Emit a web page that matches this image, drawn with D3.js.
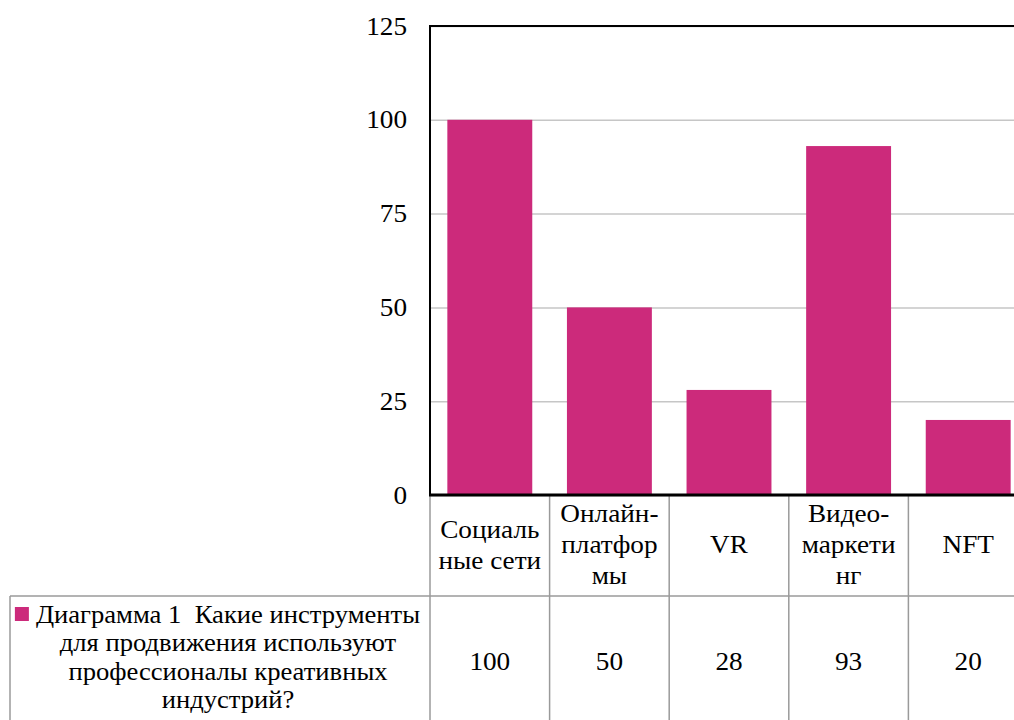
<!DOCTYPE html>
<html>
<head>
<meta charset="utf-8">
<script src="https://cdn.jsdelivr.net/npm/d3@7"></script>
<style>
  body { margin: 0; background: #fff; }
  svg { display: block; }
</style>
</head>
<body>
<svg id="chart" width="1014" height="720"></svg>
<script>
// Category names, as broken over lines inside the data-table header cells
const categories = ["Социальные сети", "Онлайн-платформы", "VR", "Видео-маркетинг", "NFT"];
const categoryLines = [["Социаль", "ные сети"], ["Онлайн-", "платфор", "мы"], ["VR"], ["Видео-", "маркети", "нг"], ["NFT"]];
// Single series and its legend text (wrapped inside the legend cell)
const seriesName = "Диаграмма 1  Какие инструменты для продвижения используют профессионалы креативных индустрий?";
const seriesLines = ["Диаграмма 1  Какие инструменты", "для продвижения используют", "профессионалы креативных", "индустрий?"];
const values = [100, 50, 28, 93, 20];
const yTicks = [0, 25, 50, 75, 100, 125];

const FONT = '"Liberation Serif", "Times New Roman", serif';
const FS = "25px";
const SX = 1.09;            // slightly widened glyphs
const SX_LEGEND = 1.065;
const barColor = "#cc2a7b";
const gridColor = "#c6c6c6";
const tableColor = "#9a9a9a";

const svg = d3.select("#chart");

const plotLeft = 430, plotTop = 26, plotBottom = 495;
const step = 119.6;
const plotRight = plotLeft + step * categories.length;
const headerBottom = 596, tableBottom = 760, legendLeft = 10;

const y = d3.scaleLinear().domain([0, 125]).range([plotBottom, plotTop]);

// Table cells share the category bands; bars sit centred inside them
const cellX = d3.scaleBand().domain(categories).range([plotLeft, plotRight]).padding(0);
const barX = d3.scaleBand().domain(categories).range([plotLeft, plotRight])
  .paddingInner(0.29).paddingOuter(0.145);
const cellMid = c => cellX(c) + cellX.bandwidth() / 2;

// Gridlines and value-axis labels
const yAxis = d3.axisLeft(y).tickValues(yTicks).tickSize(-(plotRight - plotLeft)).tickPadding(23);
const gAxis = svg.append("g").attr("transform", `translate(${plotLeft},0)`).call(yAxis);
gAxis.select(".domain").remove();
gAxis.selectAll(".tick line").attr("stroke", gridColor).attr("stroke-width", 1.5);
gAxis.selectAll(".tick text")
  .attr("x", -23 / SX).attr("transform", `scale(${SX},1)`)
  .style("font-family", FONT).style("font-size", FS).attr("fill", "#000");

// Bars
svg.append("g").selectAll("rect").data(values).join("rect")
  .attr("x", (d, i) => barX(categories[i]))
  .attr("width", barX.bandwidth())
  .attr("y", d => y(d))
  .attr("height", d => y(0) - y(d))
  .attr("fill", barColor);

// Data table grid
const tg = svg.append("g").attr("stroke", tableColor).attr("stroke-width", 1.5).attr("fill", "none");
tg.append("line").attr("x1", legendLeft).attr("x2", plotRight).attr("y1", headerBottom).attr("y2", headerBottom);
tg.append("line").attr("x1", legendLeft).attr("x2", legendLeft).attr("y1", headerBottom).attr("y2", tableBottom);
tg.selectAll("line.col").data(categories.slice(1)).join("line").attr("class", "col")
  .attr("x1", d => cellX(d)).attr("x2", d => cellX(d))
  .attr("y1", plotBottom).attr("y2", tableBottom);
tg.append("line").attr("x1", plotLeft).attr("x2", plotLeft).attr("y1", plotBottom).attr("y2", tableBottom);

// Plot frame: top edge, value axis and category axis
const fg = svg.append("g").attr("stroke", "#000");
fg.append("line").attr("x1", plotLeft).attr("x2", plotRight).attr("y1", plotTop).attr("y2", plotTop).attr("stroke-width", 2);
fg.append("line").attr("x1", plotLeft).attr("x2", plotLeft).attr("y1", plotTop - 1).attr("y2", plotBottom).attr("stroke-width", 2);
fg.append("line").attr("x1", plotLeft - 1).attr("x2", plotRight).attr("y1", y(0)).attr("y2", y(0)).attr("stroke-width", 3);

// Header cells: category names
const headerMid = (plotBottom + headerBottom) / 2;
const lh = 31;
svg.append("g").selectAll("text").data(categories).join("text")
  .attr("text-anchor", "middle")
  .attr("transform", d => `translate(${cellMid(d)},0) scale(${SX},1)`)
  .style("font-family", FONT).style("font-size", FS).attr("fill", "#000")
  .each(function (d, i) {
    const lines = categoryLines[i];
    const first = headerMid - (lines.length - 1) * lh / 2 + 8;
    d3.select(this).selectAll("tspan").data(lines).join("tspan")
      .attr("x", 0).attr("y", (l, k) => first + k * lh).text(l => l);
  });

// Value row
svg.append("g").selectAll("text").data(values).join("text")
  .attr("transform", (d, i) => `translate(${cellMid(categories[i])},670) scale(${SX},1)`)
  .attr("text-anchor", "middle")
  .style("font-family", FONT).style("font-size", FS).attr("fill", "#000")
  .text(d => d);

// Legend cell: marker plus wrapped series name
const legendCx = 228;
const legend = svg.append("g");
const lt = legend.append("text").attr("text-anchor", "middle")
  .attr("transform", `translate(${legendCx},0) scale(${SX_LEGEND},1)`)
  .style("font-family", FONT).style("font-size", FS).style("white-space", "pre")
  .attr("fill", "#000")
  .attr("aria-label", seriesName);
lt.selectAll("tspan").data(seriesLines).join("tspan")
  .attr("x", 0).attr("y", (d, k) => 623 + k * 28.5).text(d => d);
const firstW = lt.select("tspan").node().getComputedTextLength() * SX_LEGEND;
legend.append("rect")
  .attr("x", legendCx - firstW / 2 - 21).attr("y", 607)
  .attr("width", 14).attr("height", 14).attr("fill", barColor);
</script>
</body>
</html>
